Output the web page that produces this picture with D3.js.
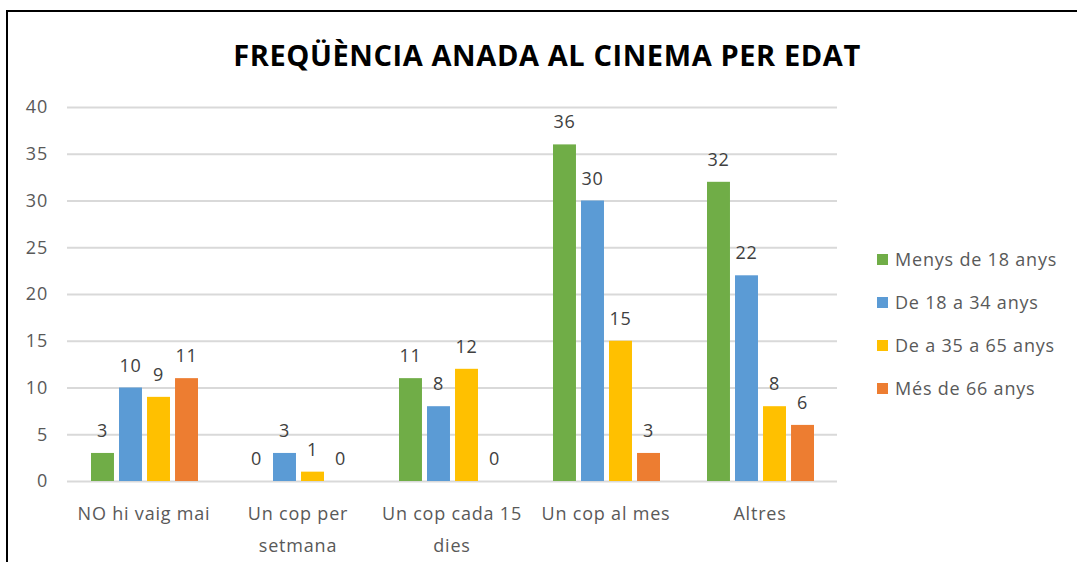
<!DOCTYPE html>
<html>
<head>
<meta charset="utf-8">
<script src="https://cdn.jsdelivr.net/npm/d3@7"></script>
<style>
  body { margin: 0; background: #fff; }
  text { font-family: 'Open Sans', sans-serif; }
</style>
</head>
<body>
<div id="chart"></div>
<script>
const categories = ['NO hi vaig mai', 'Un cop per setmana', 'Un cop cada 15 dies', 'Un cop al mes', 'Altres']
const series = ['Menys de 18 anys', 'De 18 a 34 anys', 'De a 35 a 65 anys', 'Més de 66 anys']
const menys18 = [3, 0, 11, 36, 32]
const de18a34 = [10, 3, 8, 30, 22]
const de35a65 = [9, 1, 12, 15, 8]
const mes66 = [11, 0, 0, 3, 6]
const yTicks = [0, 5, 10, 15, 20, 25, 30, 35, 40]
const colors = ['#70AD47', '#5B9BD5', '#FFC000', '#ED7D31']

const values = [menys18, de18a34, de35a65, mes66]

const width = 1077
const height = 562
const fs = '18px'
const ls = '0.8px'

const svg = d3.select('#chart')
  .append('svg')
  .attr('width', width)
  .attr('height', height)

// border (only left + top visible in the crop)
svg.append('path')
  .attr('d', 'M7,' + height + ' V11 H' + width)
  .attr('fill', 'none')
  .attr('stroke', '#000')
  .attr('stroke-width', 2)

svg.append('text')
  .attr('x', 547)
  .attr('y', 66)
  .attr('text-anchor', 'middle')
  .style('font-size', '29px')
  .style('font-weight', 'bold')
  .style('letter-spacing', '0.6px')
  .attr('fill', '#000')
  .text('FREQÜÈNCIA ANADA AL CINEMA PER EDAT')

const x0 = d3.scaleBand().domain(categories).range([67, 837])
const x1 = d3.scaleBand().domain(series).range([24, 131]).paddingInner(0.18)
const y = d3.scaleLinear().domain([0, 40]).range([481, 107])

// grid + y labels
const yAxis = d3.axisLeft(y).tickValues(yTicks).tickSize(-(837 - 67)).tickPadding(19)
const gy = svg.append('g')
  .attr('transform', 'translate(67,0)')
  .call(yAxis)
gy.select('.domain').remove()
gy.selectAll('.tick line').attr('stroke', '#D9D9D9').attr('stroke-width', 2)
gy.selectAll('.tick text')
  .attr('fill', '#595959')
  .style('font-size', fs)
  .style('letter-spacing', ls)
  .style('font-family', "'Open Sans', sans-serif")

// bars
const groups = svg.selectAll('.grp')
  .data(categories)
  .enter()
  .append('g')
  .attr('class', 'grp')
  .attr('transform', d => 'translate(' + x0(d) + ',0)')

groups.each(function(cat, ci) {
  const g = d3.select(this)
  const rows = series.map((s, si) => ({ s: s, v: values[si][ci], c: colors[si] }))
  g.selectAll('rect')
    .data(rows)
    .enter()
    .append('rect')
    .attr('x', d => x1(d.s))
    .attr('y', d => y(d.v))
    .attr('width', x1.bandwidth())
    .attr('height', d => y(0) - y(d.v))
    .attr('fill', d => d.c)
  g.selectAll('text.lbl')
    .data(rows)
    .enter()
    .append('text')
    .attr('class', 'lbl')
    .attr('x', d => x1(d.s) + x1.bandwidth() / 2)
    .attr('y', d => y(d.v) - 16)
    .attr('text-anchor', 'middle')
    .attr('fill', '#404040')
    .style('font-size', fs)
    .style('letter-spacing', ls)
    .text(d => d.v)
})

// x labels with wrapping
const wrapped = {
  'Un cop per setmana': ['Un cop per', 'setmana'],
  'Un cop cada 15 dies': ['Un cop cada 15', 'dies']
}
categories.forEach(cat => {
  const lines = wrapped[cat] || [cat]
  const t = svg.append('text')
    .attr('x', x0(cat) + x0.bandwidth() / 2)
    .attr('y', 520)
    .attr('text-anchor', 'middle')
    .attr('fill', '#595959')
    .style('font-size', fs)
    .style('letter-spacing', ls)
  lines.forEach((l, i) => {
    t.append('tspan')
      .attr('x', x0(cat) + x0.bandwidth() / 2)
      .attr('dy', i === 0 ? 0 : 32)
      .text(l)
  })
})

// legend
const legend = svg.selectAll('.leg')
  .data(series)
  .enter()
  .append('g')
  .attr('class', 'leg')
  .attr('transform', (d, i) => 'translate(877,' + (259 + i * 43) + ')')
legend.append('rect')
  .attr('x', 0)
  .attr('y', -5)
  .attr('width', 11)
  .attr('height', 11)
  .attr('fill', (d, i) => colors[i])
legend.append('text')
  .attr('x', 18)
  .attr('y', 7)
  .attr('fill', '#595959')
  .style('font-size', fs)
  .style('letter-spacing', ls)
  .text(d => d)
</script>
</body>
</html>
